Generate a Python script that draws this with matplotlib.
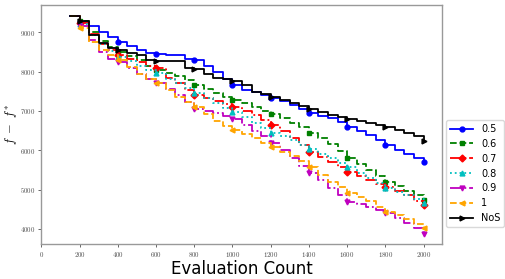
import matplotlib
matplotlib.use("Agg")
import matplotlib.pyplot as plt
from matplotlib.ticker import FuncFormatter

plt.rcParams['mathtext.fontset'] = 'cm'

evals = list(range(150, 2001, 50))

s05 = [9420, 9260, 9150, 9000, 8880, 8760, 8650, 8560, 8480, 8450, 8430, 8420,
       8330, 8290, 8150, 8000, 7800, 7650, 7540, 7470, 7400, 7330, 7240, 7150,
       7050, 6940, 6880, 6820, 6720, 6600, 6500, 6380, 6250, 6130, 6000, 5900,
       5800, 5700]
s06 = [9420, 9300, 9000, 8780, 8620, 8500, 8400, 8300, 8150, 8050, 7960, 7880,
       7780, 7660, 7550, 7450, 7360, 7280, 7190, 7100, 7000, 6920, 6820, 6700,
       6580, 6445, 6300, 6150, 5980, 5800, 5650, 5500, 5350, 5200, 5080, 4950,
       4850, 4730]
s07 = [9420, 9250, 8950, 8700, 8550, 8420, 8330, 8250, 8150, 8080, 7850, 7700,
       7520, 7410, 7320, 7250, 7180, 7100, 7000, 6900, 6780, 6640, 6480, 6300,
       6120, 5960, 5820, 5700, 5580, 5450, 5350, 5250, 5150, 5070, 4960, 4850,
       4720, 4605]
s08 = [9420, 9200, 8930, 8700, 8520, 8380, 8260, 8150, 8050, 7970, 7820, 7700,
       7580, 7450, 7320, 7200, 7080, 6980, 6840, 6700, 6570, 6445, 6350, 6250,
       6130, 6020, 5900, 5800, 5680, 5565, 5430, 5300, 5160, 5030, 4940, 4850,
       4760, 4660]
s09 = [9420, 9150, 8800, 8500, 8330, 8250, 8100, 7950, 7820, 7700, 7550, 7400,
       7220, 7050, 7000, 6950, 6880, 6800, 6650, 6500, 6350, 6180, 6000, 5800,
       5600, 5410, 5230, 5050, 4870, 4690, 4620, 4550, 4470, 4390, 4270, 4150,
       4010, 3870]
s10 = [9420, 9100, 8750, 8550, 8420, 8300, 8120, 7950, 7820, 7700, 7520, 7350,
       7230, 7100, 6920, 6750, 6620, 6510, 6400, 6300, 6180, 6070, 5960, 5850,
       5720, 5580, 5380, 5200, 5060, 4920, 4810, 4700, 4560, 4430, 4340, 4250,
       4130, 4010]
nos = [9420, 9300, 8930, 8720, 8600, 8550, 8480, 8420, 8300, 8270, 8270, 8260,
       8080, 8070, 7950, 7850, 7800, 7750, 7650, 7480, 7420, 7360, 7280, 7200,
       7130, 7040, 6960, 6900, 6850, 6790, 6750, 6700, 6650, 6600, 6520, 6450,
       6350, 6230]

labels = ['0.5', '0.6', '0.7', '0.8', '0.9', '1', 'NoS']
series = [s05, s06, s07, s08, s09, s10, nos]
colors = ['blue', 'green', 'red', 'c', 'm', 'orange', 'black']
styles = ['-', '--', '-.', ':', '-.', '--', '-']
markers = ['o', 's', 'D', '^', 'v', '<', '>']

fig = plt.figure(figsize=(5.05, 2.79), dpi=100)
ax = fig.add_axes([0.082, 0.125, 0.793, 0.857])

for ys, lab, c, ls, mk in zip(series, labels, colors, styles, markers):
    ax.plot(evals, ys, drawstyle='steps-post', color=c, linestyle=ls,
            marker=mk, markersize=3.5, markevery=slice(1, None, 4),
            linewidth=1.3, label=lab)

ax.set_xlim(0, 2096)
ax.set_ylim(3610, 9695)
ax.set_xticks(range(0, 2001, 200))
ax.set_yticks(range(4000, 9001, 1000))
fmt = FuncFormatter(lambda v, p: r'$%d$' % v)
ax.xaxis.set_major_formatter(fmt)
ax.yaxis.set_major_formatter(fmt)
ax.tick_params(labelsize=5, length=2, width=0.6, pad=2, colors='0.3')
for sp in ax.spines.values():
    sp.set_color('0.6')
    sp.set_linewidth(1.0)

ax.set_xlabel('Evaluation Count', fontsize=12, labelpad=1)
ax.set_ylabel(r'$f\ -\ f^{*}$', fontsize=9, labelpad=1)

fig.legend(loc='lower left', bbox_to_anchor=(446/505, 1 - 227/279),
           borderaxespad=0, fontsize=7, handlelength=2.4, framealpha=1,
           edgecolor='0.85', fancybox=True)

fig.savefig('out.png', dpi=100)
